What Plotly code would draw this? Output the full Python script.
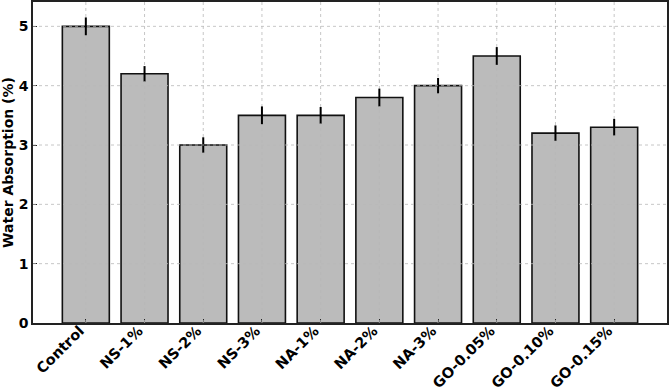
import plotly.graph_objects as go

categories = ["Control", "NS-1%", "NS-2%", "NS-3%", "NA-1%", "NA-2%", "NA-3%",
              "GO-0.05%", "GO-0.10%", "GO-0.15%"]
absorption = [5.0, 4.2, 3.0, 3.5, 3.5, 3.8, 4.0, 4.5, 3.2, 3.3]
errors = [0.15, 0.13, 0.13, 0.15, 0.14, 0.15, 0.13, 0.15, 0.13, 0.14]
y_ticks = [0, 1, 2, 3, 4, 5]

bold = dict(family="DejaVu Sans", size=14, color="black", weight="bold")
bold_x = dict(family="DejaVu Sans", size=14.5, color="black", weight="bold")

fig = go.Figure()
fig.add_trace(go.Bar(
    x=categories, y=absorption, width=0.8,
    marker=dict(color="#bbbbbb", line=dict(color="#111111", width=1.6)),
    error_y=dict(type="data", array=errors, color="black", thickness=2, width=0),
))

grid_style = dict(color="#b8b8b8", width=0.8, dash="dot")
shapes = []
for c, v, e in zip(categories, absorption, errors):
    # full-height grid line behind the bars
    shapes.append(dict(type="line", xref="x", yref="paper", x0=c, x1=c, y0=0, y1=1,
                       line=grid_style, layer="below"))
    # visible over the bar face, stopping below the error bar
    shapes.append(dict(type="line", xref="x", yref="y", x0=c, x1=c, y0=0, y1=v - e,
                       line=grid_style, layer="above"))
for t in y_ticks[1:]:
    shapes.append(dict(type="line", xref="paper", yref="y", x0=0, x1=1, y0=t, y1=t,
                       line=grid_style, layer="above"))

fig.update_layout(
    width=669, height=391,
    margin=dict(l=33, r=2, t=2, b=68),
    plot_bgcolor="white", paper_bgcolor="white",
    showlegend=False,
    shapes=shapes,
    font=bold,
)
fig.update_xaxes(
    type="category", range=[-0.9, 9.9], tickangle=-45, tickfont=bold_x,
    ticklabelstandoff=-8, ticklabelshift=-6,
    showgrid=False, showline=True, mirror=True, linecolor="#222222", linewidth=1.5,
    ticks="inside", ticklen=4, tickcolor="#222222", automargin=False,
)
fig.update_yaxes(
    range=[0, 5.41], tickvals=y_ticks, tickfont=bold,
    title=dict(text="Water Absorption (%)", font=bold, standoff=4),
    showgrid=False, zeroline=False, showline=True, mirror=True,
    linecolor="#222222", linewidth=1.5,
    ticks="inside", ticklen=4, tickcolor="#222222", automargin=False,
)

fig.write_html("out.html", config={"displayModeBar": False},
               post_script="document.body.style.margin='0';")
